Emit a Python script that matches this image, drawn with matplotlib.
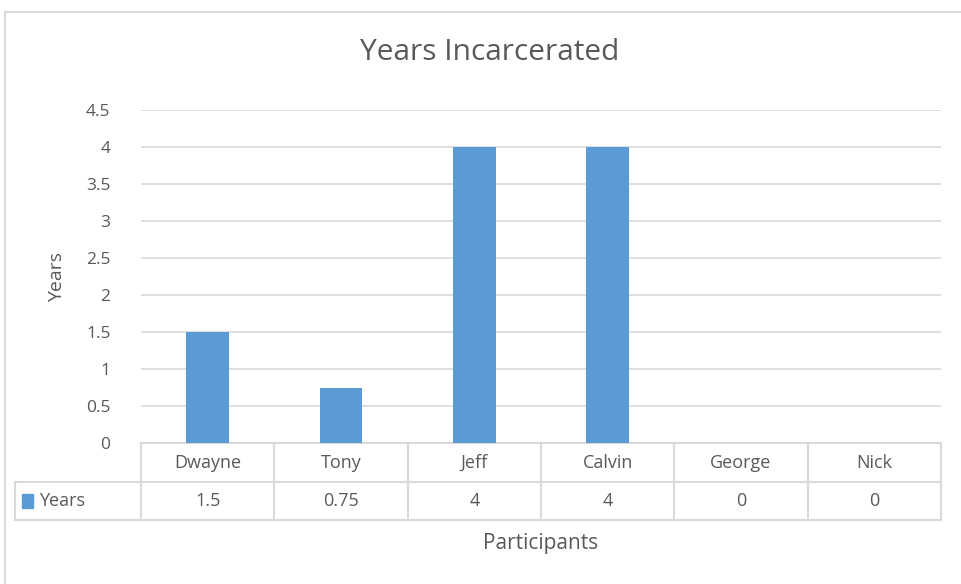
import matplotlib
matplotlib.use("Agg")
import matplotlib.pyplot as plt
from matplotlib.patches import Rectangle
from matplotlib.transforms import blended_transform_factory

participants = ["Dwayne", "Tony", "Jeff", "Calvin", "George", "Nick"]
years = [1.5, 0.75, 4, 4, 0, 0]
value_labels = ["1.5", "0.75", "4", "4", "0", "0"]
yticks = [0, 0.5, 1, 1.5, 2, 2.5, 3, 3.5, 4, 4.5]
ytick_labels = ["0", "0.5", "1", "1.5", "2", "2.5", "3", "3.5", "4", "4.5"]

W, H = 961, 584
txt = "#595959"
grid = "#D9D9D9"
bar_color = "#5B9BD5"

plt.rcParams['font.family'] = ['Open Sans', 'DejaVu Sans']

fig = plt.figure(figsize=(W / 100, H / 100), dpi=100)

# outer chart border
fig.patches.append(Rectangle((5 / W, -0.05), 1.1, (H - 12) / H + 0.05,
                             transform=fig.transFigure, fill=False,
                             edgecolor=grid, linewidth=1.5))

def fx(px):
    return px / W

def fy(py):
    return 1 - py / H

ax = fig.add_axes([fx(141), fy(443), fx(941) - fx(141), fy(110) - fy(443)])
x = list(range(len(participants)))
ax.bar(x, years, width=0.32, color=bar_color, zorder=3)
ax.set_xlim(-0.5, len(participants) - 0.5)
ax.set_ylim(0, 4.5)
ax.set_yticks(yticks)
ax.set_yticklabels(ytick_labels, color=txt, fontsize=12.5)
ax.tick_params(axis="y", length=0, pad=22)
ax.set_xticks([])
ax.grid(axis="y", color=grid, linewidth=1.2, zorder=0)
for s in ax.spines.values():
    s.set_visible(False)

ax.set_ylabel("Years", color=txt, fontsize=14, labelpad=14)
fig.text(fx(490), fy(53), "Years Incarcerated", ha="center", va="center",
         color=txt, fontsize=21.5)
fig.text(fx(541), fy(543), "Participants", ha="center", va="center",
         color=txt, fontsize=15)

# data table under the axis
tr = blended_transform_factory(ax.transData, ax.transAxes)
ah = 443 - 110
r0, r1, r2 = 0, -(482 - 443) / ah, -(520 - 443) / ah
xl, xr = -0.5, len(participants) - 0.5
leg_left = -0.5 - (141 - 15) / (800 / len(participants))
lw = 1.5
ax.plot([xl, xr], [r0, r0], color=grid, lw=lw, transform=tr, clip_on=False)
ax.plot([leg_left, xr], [r1, r1], color=grid, lw=lw, transform=tr, clip_on=False)
ax.plot([leg_left, xr], [r2, r2], color=grid, lw=lw, transform=tr, clip_on=False)
ax.plot([leg_left, leg_left], [r1, r2], color=grid, lw=lw, transform=tr, clip_on=False)
for i in range(len(participants) + 1):
    ax.plot([i - 0.5, i - 0.5], [r0, r2], color=grid, lw=lw, transform=tr, clip_on=False)
for i, (name, val) in enumerate(zip(participants, value_labels)):
    ax.text(i, (r0 + r1) / 2, name, transform=tr, ha="center", va="center",
            color=txt, fontsize=13)
    ax.text(i, (r1 + r2) / 2, val, transform=tr, ha="center", va="center",
            color=txt, fontsize=13)

# legend key inside the table
ax.add_patch(Rectangle((leg_left + 0.05, (r1 + r2) / 2 - 0.022), 0.085, 0.044,
                       transform=tr, color=bar_color, clip_on=False))
ax.text(leg_left + 0.18, (r1 + r2) / 2, "Years", transform=tr, ha="left",
        va="center", color=txt, fontsize=13)

fig.savefig("out.png", dpi=100)
